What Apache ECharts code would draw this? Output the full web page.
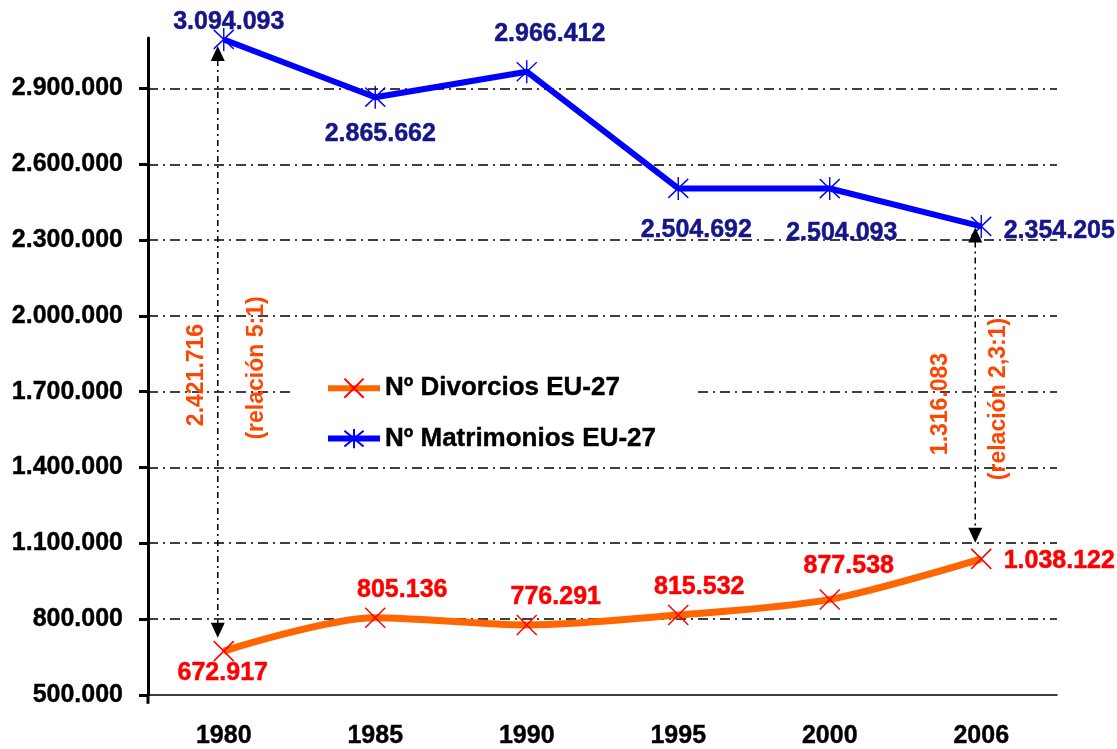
<!DOCTYPE html>
<html>
<head>
<meta charset="utf-8">
<script src="https://cdn.jsdelivr.net/npm/echarts@6/dist/echarts.min.js"></script>
<style>
html,body{margin:0;padding:0;background:#fff;}
#chart{width:1117px;height:749px;}
</style>
</head>
<body>
<div id="chart"></div>
<script>
const years = ['1980', '1985', '1990', '1995', '2000', '2006'];
const matrimonios = [3094093, 2865662, 2966412, 2504692, 2504093, 2354205];
const divorcios = [672917, 805136, 776291, 815532, 877538, 1038122];
const yTicks = [500000, 800000, 1100000, 1400000, 1700000, 2000000, 2300000, 2600000, 2900000];
const seriesNames = ['Nº Divorcios EU-27', 'Nº Matrimonios EU-27'];
const diffLabels = ['2.421.716', '1.316.083'];
const ratioLabels = ['(relación 5:1)', '(relación 2,3:1)'];

// styling (label offsets relative to each point, px)
const matLabelOffsets = [[5, -17], [5, 37], [23, -38], [18, 42], [12, 45], [78, 5]];
const divLabelOffsets = [[-1, 22], [27, -28], [29, -28], [21, -28], [19, -33], [78, 2]];

const FONT = '"Liberation Sans", Arial, sans-serif';
const fmt = n => String(n).replace(/\B(?=(\d{3})+(?!\d))/g, '.');

const chart = echarts.init(document.getElementById('chart'), null, {renderer: 'canvas'});

const gridDash = [10, 5, 2, 5];

const option = {
  backgroundColor: '#ffffff',
  animation: false,
  textStyle: {fontFamily: FONT},
  grid: {left: 148, right: 60, top: 38, bottom: 54, containLabel: false},
  legend: {
    orient: 'vertical',
    left: 292,
    top: 357,
    padding: [18, 40, 12, 33],
    backgroundColor: '#ffffff',
    itemWidth: 52,
    itemHeight: 24,
    itemGap: 24,
    data: seriesNames,
    lineStyle: {width: 6},
    textStyle: {fontFamily: FONT, fontSize: 26, fontWeight: 'bold', color: '#000',
      textBorderColor: '#000', textBorderWidth: 0.4}
  },
  xAxis: {
    type: 'category',
    data: years,
    boundaryGap: true,
    axisLine: {show: true, lineStyle: {color: '#000', width: 1.5}},
    axisTick: {show: false},
    axisLabel: {margin: 29, color: '#000', fontFamily: FONT, fontSize: 25, fontWeight: 'bold',
      textBorderColor: '#000', textBorderWidth: 0.4},
    splitLine: {show: false}
  },
  yAxis: {
    type: 'value',
    min: 500000,
    max: 3100000,
    interval: 300000,
    axisLine: {show: true, lineStyle: {color: '#000', width: 3}},
    axisTick: {show: true, length: 9, customValues: yTicks, lineStyle: {color: '#000', width: 3}},
    axisLabel: {
      margin: 25, color: '#000', fontFamily: FONT, fontSize: 25, fontWeight: 'bold',
      textBorderColor: '#000', textBorderWidth: 0.4,
      customValues: yTicks,
      formatter: v => fmt(v)
    },
    splitLine: {
      show: true, showMinLine: false,
      lineStyle: {color: '#000', width: 1.5, type: gridDash}
    }
  },
  series: [
    {
      name: seriesNames[0],
      type: 'line',
      smooth: 0.3,
      z: 3,
      data: divorcios.map((v, i) => ({
        value: v,
        label: {offset: divLabelOffsets[i]}
      })),
      symbol: 'path://M0,0L20,20M20,0L0,20',
      symbolSize: [20, 20],
      itemStyle: {color: '#FF0000', borderColor: '#FF0000', borderWidth: 1.5},
      lineStyle: {color: '#FF6600', width: 7},
      label: {
        show: true, position: 'inside', align: 'center', verticalAlign: 'middle',
        color: '#FF0000', fontFamily: FONT, fontSize: 25, fontWeight: 'bold',
        textBorderColor: '#FF0000', textBorderWidth: 0.5,
        formatter: p => fmt(p.value)
      }
    },
    {
      name: seriesNames[1],
      type: 'line',
      z: 3,
      data: matrimonios.map((v, i) => ({
        value: v,
        label: {offset: matLabelOffsets[i]}
      })),
      symbol: 'path://M0,2L20,21M20,2L0,21M10,0L10,23',
      symbolSize: [20, 23],
      itemStyle: {color: '#0000FF', borderColor: '#0000FF', borderWidth: 1.5},
      lineStyle: {color: '#0000FF', width: 6},
      label: {
        show: true, position: 'inside', align: 'center', verticalAlign: 'middle',
        color: '#16168A', fontFamily: FONT, fontSize: 25, fontWeight: 'bold',
        textBorderColor: '#16168A', textBorderWidth: 0.5,
        formatter: p => fmt(p.value)
      }
    }
  ]
};

chart.setOption(option);

const graphics = [];

// small extension of the value axis below the category axis
const gridRect = chart.getModel().getComponent('grid', 0).coordinateSystem.getRect();
graphics.push({
  type: 'line', z: 10,
  shape: {x1: gridRect.x, y1: gridRect.y + gridRect.height, x2: gridRect.x, y2: gridRect.y + gridRect.height + 9},
  style: {stroke: '#000', lineWidth: 3}
});

// annotation arrows between the two series (computed through the chart scales)
const arrowSpecs = [
  {idx: 0, top: 3068000, bottom: 726000},
  {idx: 5, top: 2350000, bottom: 1102000}
];
arrowSpecs.forEach(a => {
  const pt = chart.convertToPixel({gridIndex: 0}, [a.idx, a.top]);
  const pb = chart.convertToPixel({gridIndex: 0}, [a.idx, a.bottom]);
  const x = pt[0] - 6;
  const yT = pt[1], yB = pb[1];
  graphics.push({
    type: 'line', z: 10,
    shape: {x1: x, y1: yT + 14, x2: x, y2: yB - 14},
    style: {stroke: '#000', lineWidth: 1.5, lineDash: [6, 4, 2, 4]}
  });
  graphics.push({
    type: 'polygon', z: 10,
    shape: {points: [[x, yT], [x - 7, yT + 15], [x + 7, yT + 15]]},
    style: {fill: '#000'}
  });
  graphics.push({
    type: 'polygon', z: 10,
    shape: {points: [[x, yB], [x - 7, yB - 15], [x + 7, yB - 15]]},
    style: {fill: '#000'}
  });
});

const textPos = [
  {t: diffLabels[0], x: 197, y: 375},
  {t: ratioLabels[0], x: 257, y: 368},
  {t: diffLabels[1], x: 941, y: 404},
  {t: ratioLabels[1], x: 999, y: 399}
];
textPos.forEach(o => {
  graphics.push({
    type: 'text', z: 10,
    x: o.x, y: o.y, rotation: Math.PI / 2,
    style: {
      text: o.t, fill: '#FF4500', font: 'bold 23px ' + FONT,
      align: 'center', verticalAlign: 'middle'
    }
  });
});

chart.setOption({graphic: graphics});
</script>
</body>
</html>
